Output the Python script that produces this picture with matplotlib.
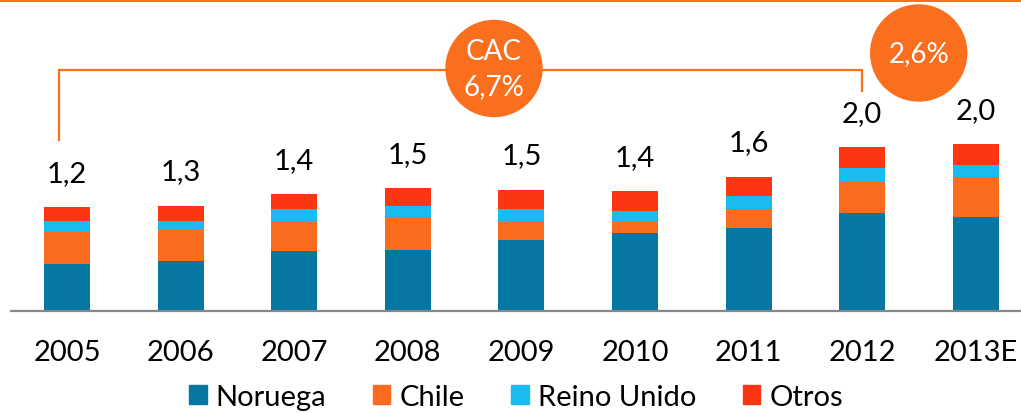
import matplotlib.pyplot as plt
from matplotlib.patches import Ellipse, Rectangle
from matplotlib.lines import Line2D
import numpy as np

plt.rcParams['font.family'] = ['Lato', 'DejaVu Sans']

# data (millones de toneladas)
years = ["2005", "2006", "2007", "2008", "2009", "2010", "2011", "2012", "2013E"]
noruega = [0.57, 0.60, 0.72, 0.73, 0.85, 0.94, 1.00, 1.18, 1.13]
chile = [0.38, 0.37, 0.37, 0.40, 0.24, 0.13, 0.23, 0.37, 0.48]
reino_unido = [0.13, 0.12, 0.14, 0.14, 0.14, 0.14, 0.16, 0.17, 0.15]
otros = [0.17, 0.18, 0.18, 0.21, 0.23, 0.23, 0.23, 0.25, 0.25]
total_labels = ["1,2", "1,3", "1,4", "1,5", "1,5", "1,4", "1,6", "2,0", "2,0"]
series_names = ["Noruega", "Chile", "Reino Unido", "Otros"]
colors = ["#0577A2", "#F96B1E", "#19BBF0", "#FC3612"]
cac_text = "CAC\n6,7%"
last_text = "2,6%"

W, H = 1021, 414
fig = plt.figure(figsize=(W / 100, H / 100), dpi=100)
ppu = 83.0  # pixels per unit
base_px = 312
ax = fig.add_axes([0, (H - base_px) / H, 1, base_px / H])
x = np.arange(len(years))
step = 113.6
x0 = 67
ax.set_xlim(-x0 / step, (W - x0) / step)
ax.set_ylim(0, base_px / ppu)
ax.axis("off")

bottom = np.zeros(len(years))
for vals, c in zip([noruega, chile, reino_unido, otros], colors):
    ax.bar(x, vals, width=0.405, bottom=bottom, color=c, edgecolor="none")
    bottom += np.array(vals)

# baseline
ax.plot([(10 - x0) / step, (W - x0) / step], [0, 0], color="#878787", lw=1.6,
        solid_capstyle="butt", clip_on=False)

for i, lab in enumerate(total_labels):
    ax.annotate(lab, (x[i], bottom[i]), xytext=(0, 19), textcoords="offset points",
                ha="center", va="baseline", fontsize=21)

for i, y in enumerate(years):
    ax.text(x[i], -41 / ppu, y, ha="center", va="center", fontsize=21)

# bracket
orange = "#F96F1E"
yb = (base_px - 71) / ppu
ax.plot([x[0] - 0.073, x[0] - 0.073, x[7], x[7]],
        [(base_px - 141) / ppu, yb, yb, (base_px - 92) / ppu],
        color=orange, lw=1.6, solid_joinstyle="miter")

# circles
r = 48
ax.add_patch(Ellipse(((494 - x0) / step, (base_px - 69.5) / ppu), 2 * r / step, 2 * r / ppu,
                     color=orange, zorder=5))
ax.text((494 - x0) / step, (base_px - 69.5) / ppu, cac_text, ha="center", va="center",
        color="white", fontsize=20, linespacing=1.45, zorder=6)
ax.add_patch(Ellipse(((918.7 - x0) / step, (base_px - 54) / ppu), 2 * r / step, 2 * r / ppu,
                     color=orange, zorder=5))
ax.text((918.7 - x0) / step, (base_px - 54) / ppu, last_text, ha="center", va="center",
        color="white", fontsize=20, zorder=6)

# top band
fig.add_artist(Rectangle((0, 1 - 3 / H), 1, 3 / H, transform=fig.transFigure,
                         color=orange, lw=0))

handles = [Rectangle((0, 0), 1, 1, color=c) for c in colors]
fig.legend(handles, series_names, loc="center", bbox_to_anchor=(516 / W, 1 - 398 / H),
           ncol=4, frameon=False, fontsize=21, handlelength=0.6, handleheight=0.6,
           handletextpad=0.31, columnspacing=1.6, borderaxespad=0, borderpad=0)

fig.savefig("out.png", dpi=100)
